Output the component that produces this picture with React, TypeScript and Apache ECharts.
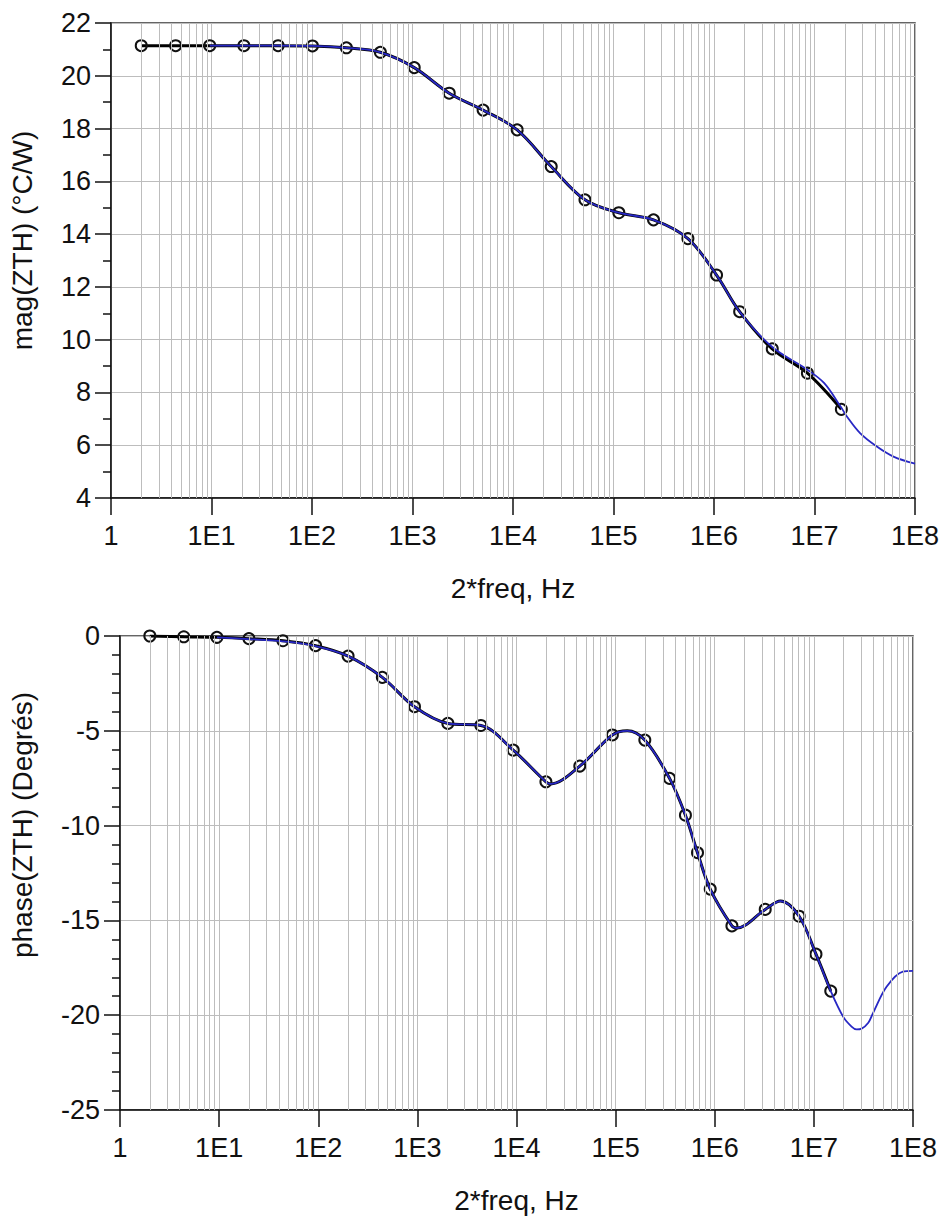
import React, { useEffect, useRef } from "react";
import * as echarts from "echarts";

// ---- Data ----
// Magnitude: measured points (circles)
const magFreq = [2, 4.4, 9.6, 21, 46, 101, 220, 479, 1040, 2320, 5040, 1.1e4, 2.4e4, 5.2e4, 1.13e5, 2.5e5, 5.5e5, 1.06e6, 1.8e6, 3.8e6, 8.5e6, 1.85e7];
const magMeas = [21.14, 21.14, 21.14, 21.14, 21.14, 21.13, 21.06, 20.89, 20.31, 19.34, 18.7, 17.95, 16.56, 15.3, 14.81, 14.54, 13.83, 12.45, 11.06, 9.65, 8.73, 7.36];

// Magnitude: model (blue)
const magModelFreq = [9.6, 21, 46, 101, 220, 479, 1040, 2320, 5040, 1.1e4, 2.4e4, 5.2e4, 1.13e5, 2.5e5, 5.5e5, 1.06e6, 1.8e6, 3.8e6, 8.5e6, 1.25e7, 1.85e7, 2.1e7, 2.84e7, 4.17e7, 6.1e7, 1e8];
const magModel = [21.14, 21.14, 21.14, 21.13, 21.06, 20.89, 20.31, 19.34, 18.7, 17.95, 16.56, 15.3, 14.81, 14.54, 13.83, 12.45, 11.06, 9.72, 8.86, 8.35, 7.42, 7.09, 6.46, 5.95, 5.57, 5.3];

// Phase: measured points (circles)
const phaseFreq = [2.0, 4.4, 9.5, 20, 44, 94, 200, 443, 935, 2030, 4370, 9270, 1.98e4, 4.35e4, 9.27e4, 1.97e5, 3.5e5, 5.06e5, 6.7e5, 9.0e5, 1.49e6, 3.23e6, 7.1e6, 1.05e7, 1.48e7];
const phaseMeas = [0.0, -0.04, -0.07, -0.14, -0.25, -0.51, -1.06, -2.18, -3.73, -4.61, -4.72, -6.02, -7.69, -6.86, -5.22, -5.49, -7.51, -9.45, -11.43, -13.35, -15.29, -14.42, -14.78, -16.78, -18.73];
// Phase: extra trace points of the measured curve (extrema between markers, no circle)
const phaseTraceFreq = [2.2e4, 1.31e5, 1.67e6, 4.6e6];
const phaseTrace = [-7.8, -5.0, -15.4, -13.98];

// Phase: model (blue)
const phaseModelFreq = [9.5, 20, 44, 94, 200, 443, 935, 2030, 4370, 9270, 1.98e4, 2.2e4, 4.35e4, 9.27e4, 1.31e5, 1.97e5, 3.5e5, 5.06e5, 6.7e5, 9.0e5, 1.49e6, 1.67e6, 3.23e6, 4.6e6, 7.1e6, 1.05e7, 1.48e7, 1.98e7, 2.4e7, 2.7e7, 3.03e7, 3.54e7, 3.94e7, 5.41e7, 7.9e7, 1e8];
const phaseModel = [-0.07, -0.16, -0.28, -0.53, -1.06, -2.18, -3.73, -4.61, -4.72, -6.02, -7.69, -7.8, -6.86, -5.22, -5.0, -5.49, -7.51, -9.45, -11.43, -13.35, -15.29, -15.4, -14.42, -13.98, -14.78, -16.78, -18.73, -20.09, -20.6, -20.75, -20.71, -20.4, -19.9, -18.5, -17.7, -17.66];

const xTickLabels = ["1", "1E1", "1E2", "1E3", "1E4", "1E5", "1E6", "1E7", "1E8"];
const xTitle = "2*freq, Hz";
const magTitle = "mag(ZTH) (°C/W)";
const phaseTitle = "phase(ZTH) (Degrés)";

const FONT = "'Liberation Sans', Arial, sans-serif";
const GRID_COLOR = "#bdbdbd";

function minorGridValues(): number[] {
  const out: number[] = [];
  for (let e = 0; e < 8; e++) {
    for (let m = 2; m <= 9; m++) out.push(m * Math.pow(10, e));
  }
  return out;
}

function zip(xs: number[], ys: number[]) {
  return xs.map((x, i) => [x, ys[i]]);
}

function traceWithMarkers(mx: number[], my: number[], tx: number[], ty: number[]) {
  const items: any[] = mx.map((x, i) => ({ value: [x, my[i]] }));
  tx.forEach((x, i) => items.push({ value: [x, ty[i]], symbol: "none" }));
  items.sort((a, b) => a.value[0] - b.value[0]);
  return items;
}

export default function App() {
  const ref = useRef<HTMLDivElement>(null);
  useEffect(() => {
    if (!ref.current) return;
    const chart = echarts.init(ref.current, undefined, { renderer: "svg" });

    const xAxisBase = (gridIndex: number) => ({
      type: "log",
      gridIndex,
      logBase: 10,
      min: 1,
      max: 1e8,
      splitNumber: 8,
      name: xTitle,
      nameLocation: "middle",
      nameGap: 76,
      nameTextStyle: { fontFamily: FONT, fontSize: 28, color: "#111" },
      axisLine: { show: true, onZero: false, lineStyle: { color: "#111", width: 1.5 } },
      axisTick: { show: true, inside: false, length: 17, lineStyle: { color: "#111", width: 1.5 } },
      minorTick: { show: false },
      axisLabel: {
        fontFamily: FONT,
        fontSize: 27,
        color: "#111",
        margin: 24,
        formatter: (v: number) => xTickLabels[Math.round(Math.log10(v))] ?? "",
      },
      splitLine: { show: true, lineStyle: { color: GRID_COLOR, width: 1 } },
    });

    const yAxisBase = (gridIndex: number, min: number, max: number, interval: number, minorSplit: number, name: string, nameGap: number, shiftUp: number) => ({
      type: "value",
      gridIndex,
      min,
      max,
      interval,
      name,
      nameLocation: "middle",
      nameGap,
      nameTextStyle: { fontFamily: FONT, fontSize: 28, color: "#111", padding: [0, 0, 0, shiftUp * 2] },
      axisLine: { show: true, onZero: false, lineStyle: { color: "#111", width: 1.5 } },
      axisTick: { show: true, inside: false, length: 16, lineStyle: { color: "#111", width: 1.5 } },
      minorTick: { show: true, splitNumber: minorSplit, length: 8, lineStyle: { color: "#111", width: 1.5 } },
      axisLabel: { fontFamily: FONT, fontSize: 27, color: "#111", margin: 20 },
      splitLine: { show: true, lineStyle: { color: GRID_COLOR, width: 1 } },
    });

    const minorLines = (xAxisIndex: number, yAxisIndex: number) => ({
      type: "line",
      xAxisIndex,
      yAxisIndex,
      data: [],
      silent: true,
      z: 1,
      markLine: {
        silent: true,
        symbol: ["none", "none"],
        label: { show: false },
        lineStyle: { color: GRID_COLOR, width: 1, type: "solid" },
        emphasis: { disabled: true },
        data: minorGridValues().map((v) => ({ xAxis: v })),
      },
    });

    const measured = (xAxisIndex: number, yAxisIndex: number, data: any[]) => ({
      type: "line",
      xAxisIndex,
      yAxisIndex,
      data,
      smooth: 0.35,
      z: 3,
      symbol: "circle",
      symbolSize: 11,
      showAllSymbol: true,
      lineStyle: { color: "#000", width: 3 },
      itemStyle: { color: "rgba(0,0,0,0)", borderColor: "#111", borderWidth: 2 },
    });

    const model = (xAxisIndex: number, yAxisIndex: number, data: number[][]) => ({
      type: "line",
      xAxisIndex,
      yAxisIndex,
      data,
      smooth: 0.35,
      z: 4,
      symbol: "none",
      lineStyle: { color: "#2727c4", width: 1.8 },
    });

    chart.setOption({
      animation: false,
      backgroundColor: "#fff",
      grid: [
        { left: 109, top: 23, width: 806, height: 475, show: true, borderColor: "#333", borderWidth: 1.5, backgroundColor: "#fff" },
        { left: 118, top: 636, width: 795, height: 474, show: true, borderColor: "#333", borderWidth: 1.5, backgroundColor: "#fff" },
      ],
      xAxis: [xAxisBase(0), xAxisBase(1)],
      yAxis: [
        yAxisBase(0, 4, 22, 2, 2, magTitle, 75, 20),
        yAxisBase(1, -25, 0, 5, 5, phaseTitle, 84, 48),
      ],
      series: [
        minorLines(0, 0),
        minorLines(1, 1),
        measured(0, 0, traceWithMarkers(magFreq, magMeas, [], [])),
        model(0, 0, zip(magModelFreq, magModel)),
        measured(1, 1, traceWithMarkers(phaseFreq, phaseMeas, phaseTraceFreq, phaseTrace)),
        model(1, 1, zip(phaseModelFreq, phaseModel)),
      ],
    });

    return () => chart.dispose();
  }, []);

  return <div ref={ref} style={{ position: "absolute", left: 0, top: 0, width: 943, height: 1221 }} />;
}
